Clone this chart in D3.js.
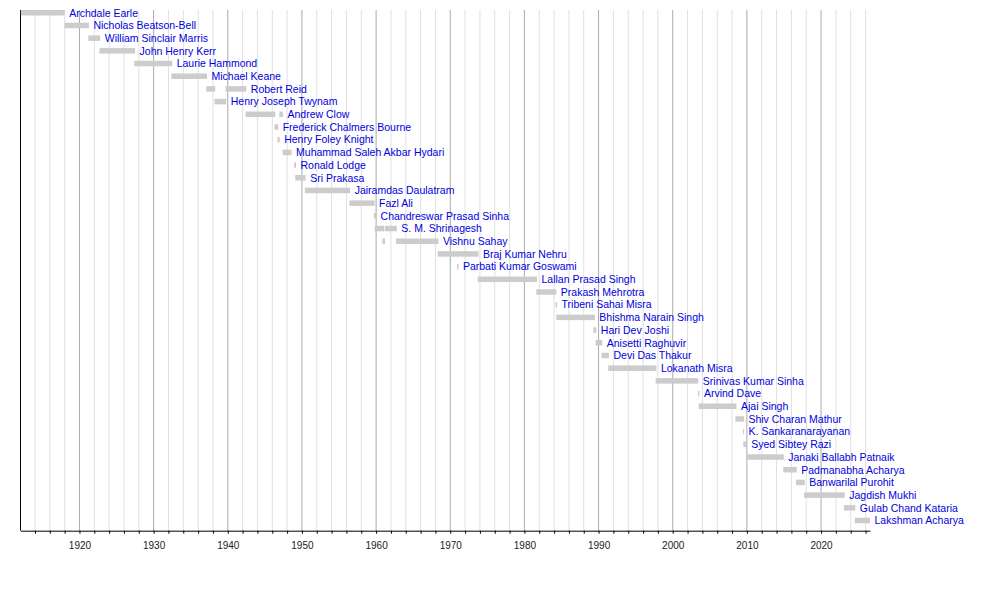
<!DOCTYPE html>
<html>
<head>
<meta charset="utf-8">
<script src="https://cdn.jsdelivr.net/npm/d3@7"></script>
<style>
    body { margin: 0; background: #fff; }
    #graph text { font-family: "Liberation Sans", Arial, sans-serif; }
</style>
</head>
<body>
<div id="graph"></div>
<script>
var noms = [
    "Archdale Earle", "Nicholas Beatson-Bell", "William Sinclair Marris", "John Henry Kerr",
    "Laurie Hammond", "Michael Keane", "Robert Reid", "Henry Joseph Twynam", "Andrew Clow",
    "Frederick Chalmers Bourne", "Henry Foley Knight", "Muhammad Saleh Akbar Hydari",
    "Ronald Lodge", "Sri Prakasa", "Jairamdas Daulatram", "Fazl Ali",
    "Chandreswar Prasad Sinha", "S. M. Shrinagesh", "Vishnu Sahay", "Braj Kumar Nehru",
    "Parbati Kumar Goswami", "Lallan Prasad Singh", "Prakash Mehrotra", "Tribeni Sahai Misra",
    "Bhishma Narain Singh", "Hari Dev Joshi", "Anisetti Raghuvir", "Devi Das Thakur",
    "Lokanath Misra", "Srinivas Kumar Sinha", "Arvind Dave", "Ajai Singh",
    "Shiv Charan Mathur", "K. Sankaranarayanan", "Syed Sibtey Razi", "Janaki Ballabh Patnaik",
    "Padmanabha Acharya", "Banwarilal Purohit", "Jagdish Mukhi", "Gulab Chand Kataria",
    "Lakshman Acharya"
];

// [ligne, debut, fin] en années décimales
var mandats = [
    [0, 1912.1, 1918.0], [1, 1918.0, 1921.27], [2, 1921.2, 1922.8], [3, 1922.7, 1927.5],
    [4, 1927.4, 1932.5], [5, 1932.4, 1937.2], [6, 1937.1, 1938.3], [6, 1939.7, 1942.5],
    [7, 1938.2, 1939.8], [8, 1942.4, 1946.4], [8, 1946.95, 1947.45], [9, 1946.3, 1946.8],
    [10, 1946.7, 1947.0], [11, 1947.4, 1948.6], [12, 1948.95, 1949.2], [13, 1949.1, 1950.5],
    [14, 1950.4, 1956.5], [15, 1956.4, 1959.8], [16, 1959.7, 1960.0], [17, 1959.8, 1961.1],
    [17, 1961.2, 1962.8], [18, 1960.85, 1961.2], [18, 1962.7, 1968.4], [19, 1968.3, 1973.8],
    [20, 1970.9, 1971.1], [21, 1973.7, 1981.7], [22, 1981.6, 1984.3], [23, 1984.2, 1984.4],
    [24, 1984.3, 1989.5], [25, 1989.3, 1989.7], [26, 1989.6, 1990.5], [27, 1990.4, 1991.4],
    [28, 1991.3, 1997.8], [29, 1997.7, 2003.45], [30, 2003.4, 2003.6], [31, 2003.5, 2008.6],
    [32, 2008.45, 2009.6], [33, 2009.48, 2009.62], [34, 2009.52, 2009.98], [35, 2009.88, 2014.97],
    [36, 2014.91, 2016.72], [37, 2016.62, 2017.8], [38, 2017.7, 2023.19], [39, 2023.1, 2024.62],
    [40, 2024.54, 2026.6]
];

var debutAxe = 1912.05,
    finAxe = 2026.6,
    decennies = [1920, 1930, 1940, 1950, 1960, 1970, 1980, 1990, 2000, 2010, 2020];

function dessinFrise() {
    var width = 1000, height = 600,
        haut = 10, basAxe = 530.7,
        couleur_barre = "#cccccc",
        couleur_nom = "#0000dd",

        svg = d3.select("#graph")
            .append("svg")
                .attr("width", width)
                .attr("height", height),

        x = d3.scaleLinear()
            .domain([debutAxe, finAxe])
            .range([20.5, 870]),

        y = d3.scalePoint()
            .domain(d3.range(noms.length))
            .range([12.75, 520.5]),

        annees = d3.range(1914, finAxe, 2);

    // grille verticale
    svg.selectAll(".grille")
        .data(annees)
        .enter()
        .append("line")
        .attr("x1", function (d) { return x(d); })
        .attr("x2", function (d) { return x(d); })
        .attr("y1", haut)
        .attr("y2", basAxe)
        .style("stroke", function (d) { return d % 10 === 0 ? "#aaaaaa" : "#e0e0e0"; })
        .style("stroke-width", 1);

    svg.append("line")
        .attr("x1", x(debutAxe))
        .attr("x2", x(debutAxe))
        .attr("y1", haut)
        .attr("y2", basAxe)
        .style("stroke", "black");

    // barres
    svg.selectAll(".mandat")
        .data(mandats)
        .enter()
        .append("rect")
        .attr("x", function (d) { return x(d[1]); })
        .attr("width", function (d) { return Math.max(1, x(d[2]) - x(d[1])); })
        .attr("y", function (d) { return y(d[0]) - 2.75; })
        .attr("height", 5.5)
        .style("fill", couleur_barre);

    // noms après la dernière barre de chaque ligne
    var finLigne = noms.map(function (n, i) {
        return d3.max(mandats.filter(function (m) { return m[0] === i; }), function (m) { return m[2]; });
    });

    svg.selectAll(".nom")
        .data(noms)
        .enter()
        .append("text")
        .attr("x", function (d, i) { return x(finLigne[i]) + 4.5; })
        .attr("y", function (d, i) { return y(i); })
        .attr("dy", "0.36em")
        .style("font-size", "10.5px")
        .style("fill", couleur_nom)
        .text(function (d) { return d; });

    // axe
    var axe = svg.append("g")
        .attr("transform", "translate(0," + basAxe + ")")
        .call(d3.axisBottom(x)
            .tickValues(annees)
            .tickSize(3)
            .tickSizeOuter(0)
            .tickPadding(8)
            .tickFormat(function (d) { return decennies.indexOf(d) >= 0 ? d : ""; }));
    axe.select(".domain").style("stroke", "black");
    axe.selectAll("text")
        .style("font-size", "10px")
        .style("font-family", "\"Liberation Sans\", Arial, sans-serif")
        .style("fill", "#222");
}

dessinFrise();
</script>
</body>
</html>
